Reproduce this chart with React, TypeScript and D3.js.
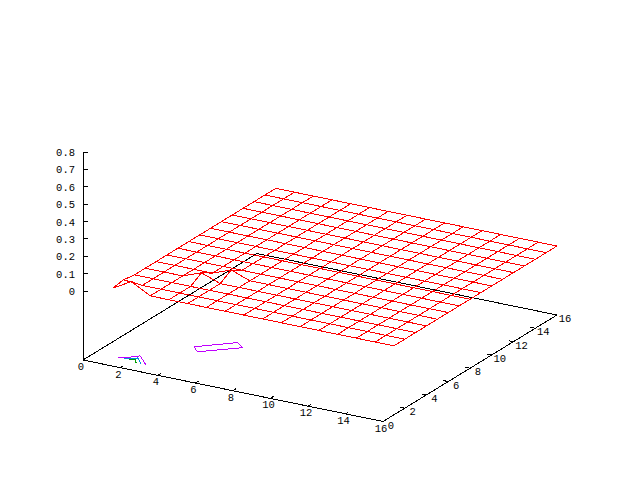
import React from "react";
import * as d3 from "d3";

const xTicks = [0, 2, 4, 6, 8, 10, 12, 14, 16];
const yTicks = [0, 2, 4, 6, 8, 10, 12, 14, 16];
const zTicks = [0, 0.1, 0.2, 0.3, 0.4, 0.5, 0.6, 0.7, 0.8];
const gridIndex = [1, 2, 3, 4, 5, 6, 7, 8, 9, 10, 11, 12, 13, 14, 15, 16];

// surface heights, row = y 1..16, col = x 1..16
const surface: number[][] = [
  [0, 0.06, 0, 0, 0, 0, 0, 0, 0, 0, 0, 0, 0, 0, 0, 0],
  [0.01, 0, 0, 0, 0, 0, 0, 0, 0, 0, 0, 0, 0, 0, 0, 0],
  [0, 0, 0, 0, 0, 0, 0, 0, 0, 0, 0, 0, 0, 0, 0, 0],
  [0, 0, 0, 0.04, 0, 0, 0, 0, 0, 0, 0, 0, 0, 0, 0, 0],
  [0, 0, 0, 0, 0.04, 0, 0, 0, 0, 0, 0, 0, 0, 0, 0, 0],
  [0, 0, 0, 0, 0, 0, 0, 0, 0, 0, 0, 0, 0, 0, 0, 0],
  [0, 0, 0, 0, 0, 0, 0, 0, 0, 0, 0, 0, 0, 0, 0, 0],
  [0, 0, 0, 0, 0, 0, 0, 0, 0, 0, 0, 0, 0, 0, 0, 0],
  [0, 0, 0, 0, 0, 0, 0, 0, 0, 0, 0, 0, 0, 0, 0, 0],
  [0, 0, 0, 0, 0, 0, 0, 0, 0, 0, 0, 0, 0, 0, 0, 0],
  [0, 0, 0, 0, 0, 0, 0, 0, 0, 0, 0, 0, 0, 0, 0, 0],
  [0, 0, 0, 0, 0, 0, 0, 0, 0, 0, 0, 0, 0, 0, 0, 0],
  [0, 0, 0, 0, 0, 0, 0, 0, 0, 0, 0, 0, 0, 0, 0, 0],
  [0, 0, 0, 0, 0, 0, 0, 0, 0, 0, 0, 0, 0, 0, 0, 0],
  [0, 0, 0, 0, 0, 0, 0, 0, 0, 0, 0, 0, 0, 0, 0, 0],
  [0, 0, 0, 0, 0, 0, 0, 0, 0, 0, 0, 0, 0, 0, 0, 0],
];

// contour lines on the base plane, [x, y] data pairs
const contourPurpleA = [[1.27, 1.04], [1.47, 1.16], [2.01, 1.78], [2.85, 0.89]];
const contourBlue = [[1.57, 1.07], [2.07, 1.5], [2.58, 0.89]];
const contourGreen = [[1.84, 1.07], [2.08, 1.21], [2.32, 0.89]];
const contourPurpleB = [[3.58, 4.06], [5.03, 5.52], [5.57, 5.06], [4.03, 3.56], [3.58, 4.06]];

const FONT = "'Liberation Mono', 'DejaVu Sans Mono', monospace";

// projection: data -> pixel, via axis scales along each screen direction
const sx = d3.scaleLinear().domain([0, 16]).range([0, 300]);
const sxv = d3.scaleLinear().domain([0, 16]).range([0, 61.5]);
const sy = d3.scaleLinear().domain([0, 16]).range([0, 174]);
const syv = d3.scaleLinear().domain([0, 16]).range([0, -106.5]);
const sz = d3.scaleLinear().domain([0, 0.8]).range([291, 152]);
const ORIGIN_X = 83;
const ORIGIN_Y = 360;
const baseP = (x: number, y: number): [number, number] => [ORIGIN_X + sx(x) + sy(y), ORIGIN_Y + sxv(x) + syv(y)];
const surfP = (x: number, y: number, z: number): [number, number] => [ORIGIN_X + sx(x) + sy(y), sz(z) + sxv(x) + syv(y)];
const line = d3.line();

export default function App() {
  const a = baseP(0, 0);
  const b = baseP(16, 0);
  const c = baseP(16, 16);
  const d = baseP(0, 16);
  const rows = surface.map((row, j) => line(row.map((z, i) => surfP(gridIndex[i], gridIndex[j], z))) as string);
  const cols = gridIndex.map((xv, i) => line(surface.map((row, j) => surfP(xv, gridIndex[j], row[i]))) as string);
  return (
    <svg width={640} height={480} style={{ position: "absolute", left: 0, top: 0, background: "#fff" }} fontFamily={FONT} fontSize={10.5}>
      <g stroke="#000" fill="none" strokeWidth={1} shapeRendering="crispEdges">
        <path d={line([a, b, c, d, a]) as string} />
        <path d={`M${ORIGIN_X},${ORIGIN_Y}V${sz(0.8)}`} />
        {zTicks.map((t) => <path key={t} d={`M${ORIGIN_X},${sz(t)}h5`} />)}
        {xTicks.slice(1, -1).map((t) => { const p = baseP(t, 0); return <path key={t} d={`M${p[0]},${p[1]}l3,-2`} />; })}
        {yTicks.slice(1, -1).map((t) => { const p = baseP(16, t); return <path key={t} d={`M${p[0]},${p[1]}l-5,-1`} />; })}
      </g>
      <g fill="#000" textAnchor="middle">
        {zTicks.map((t) => <text key={t} x={75} y={sz(t) + 4} textAnchor="end">{t === 0 ? "0" : t.toFixed(1)}</text>)}
        {xTicks.map((t) => { const p = baseP(t, 0); return <text key={t} x={p[0] - 2} y={p[1] + 10}>{t}</text>; })}
        {yTicks.map((t) => { const p = baseP(16, t); return <text key={t} x={p[0] + 8} y={p[1] + 7}>{t}</text>; })}
      </g>
      <g fill="none" strokeWidth={1} shapeRendering="crispEdges">
        <path d={line(contourPurpleA.map(([x, y]) => baseP(x, y))) as string} stroke="#c000ff" />
        <path d={line(contourPurpleB.map(([x, y]) => baseP(x, y))) as string} stroke="#c000ff" />
        <path d={line(contourBlue.map(([x, y]) => baseP(x, y))) as string} stroke="#0090e0" />
        <path d={line(contourGreen.map(([x, y]) => baseP(x, y))) as string} stroke="#00a000" />
      </g>
      <g fill="none" stroke="#f00" strokeWidth={1} shapeRendering="crispEdges">
        {rows.map((p, i) => <path key={`r${i}`} d={p} />)}
        {cols.map((p, i) => <path key={`c${i}`} d={p} />)}
      </g>
    </svg>
  );
}
